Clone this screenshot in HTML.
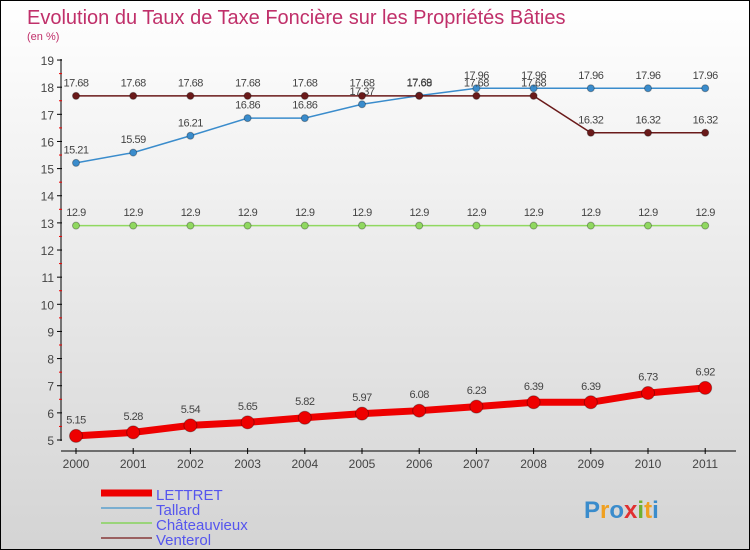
<!DOCTYPE html>
<html><head><meta charset="utf-8"><style>
body{margin:0}
#c{width:748px;height:548px;border:1px solid #000;background:linear-gradient(#fff,#d4d4d4);position:relative;font-family:"Liberation Sans",sans-serif}
</style></head><body>
<div id="c">
<svg id="s" width="748" height="548" style="position:absolute;left:0;top:0">
<text x="26" y="23" font-size="20" fill="#c0306a">Evolution du Taux de Taxe Foncière sur les Propriétés Bâties</text>
<text x="26" y="39" font-size="11" fill="#c0306a">(en %)</text>
</svg>
</div>
<script>
const years=[2000,2001,2002,2003,2004,2005,2006,2007,2008,2009,2010,2011];
const lettret=[5.15,5.28,5.54,5.65,5.82,5.97,6.08,6.23,6.39,6.39,6.73,6.92];
const tallard=[15.21,15.59,16.21,16.86,16.86,17.37,17.69,17.96,17.96,17.96,17.96,17.96];
const chateauvieux=[12.9,12.9,12.9,12.9,12.9,12.9,12.9,12.9,12.9,12.9,12.9,12.9];
const venterol=[17.68,17.68,17.68,17.68,17.68,17.68,17.68,17.68,17.68,16.32,16.32,16.32];
const yTicks=[5,6,7,8,9,10,11,12,13,14,15,16,17,18,19];
const labels=["5.15","5.28","5.54","5.65","5.82","5.97","6.08","6.23","6.39","6.39","6.73","6.92"];
const NS="http://www.w3.org/2000/svg",s=document.getElementById('s');
const X=i=>75+i*57.2, Y=v=>439-(v-5)*27.14;
function el(t,a,p){const e=document.createElementNS(NS,t);for(const k in a)e.setAttribute(k,a[k]);(p||s).appendChild(e);return e;}
let ax=el('line',{x1:60,y1:58,x2:60,y2:440,stroke:'#000'});


yTicks.forEach(v=>{el('line',{x1:56,x2:61,y1:Y(v),y2:Y(v),stroke:'#000'});
if(v<19)el('line',{x1:58,x2:61,y1:Y(v+0.5),y2:Y(v+0.5),stroke:'#e00'});
const t=el('text',{x:53,y:Y(v)+5,'text-anchor':'end','font-size':12,fill:'#444'});t.textContent=v;

});
let xa=el('line',{x1:60,y1:450,x2:735,y2:450,stroke:'#000'});


years.forEach((y,i)=>{el('line',{x1:X(i),x2:X(i),y1:447,y2:453,stroke:'#000'});
const t=el('text',{x:X(i),y:467,'text-anchor':'middle','font-size':12,fill:'#444'});t.textContent=y;

});
function series(d,col,w,r,name,lab){
const p=el('polyline',{points:d.map((v,i)=>X(i)+','+Y(v)).join(' '),fill:'none',stroke:col,'stroke-width':w});


d.forEach((v,i)=>{const c=el('circle',{cx:X(i),cy:Y(v),r:r,fill:col,stroke:'rgba(0,0,0,0.3)'});


const t=el('text',{x:X(i),y:Y(v)-(r+6),'text-anchor':'middle','font-size':11,fill:'#444','letter-spacing':'-0.5'});
t.textContent=lab?lab[i]:String(v);

});}
series(chateauvieux,'#90d860',1.5,3.5,'chateauvieux');
series(tallard,'#3a8ccc',1.5,3.5,'tallard');
series(venterol,'#6a1a1a',1.5,3.5,'venterol');
series(lettret,'#ee0000',7,6.5,'lettret',labels);
const leg=[['LETTRET','#ee0000',7],['Tallard','#7aaed0',2],['Châteauvieux','#9ad47a',2],['Venterol','#9a6060',2]];
leg.forEach((l,i)=>{const y=492+i*15;
const ln=el('line',{x1:100,x2:151,y1:y,y2:y,stroke:l[1],'stroke-width':l[2]});


const t=el('text',{x:155,y:y+7,'font-size':15,fill:'#5555ee'});t.textContent=l[0];

});
const pc=['#3a8ccc','#f0a020','#3a8ccc','#e03030','#70b030','#f0a020'],pw="Proxiti";
let g=el('text',{x:583,y:517,'font-size':24,'font-weight':'bold'});


[...pw].forEach((ch,i)=>{const ts=el('tspan',{fill:pc[i%pc.length]},g);ts.textContent=ch;});
</script>
</body></html>
